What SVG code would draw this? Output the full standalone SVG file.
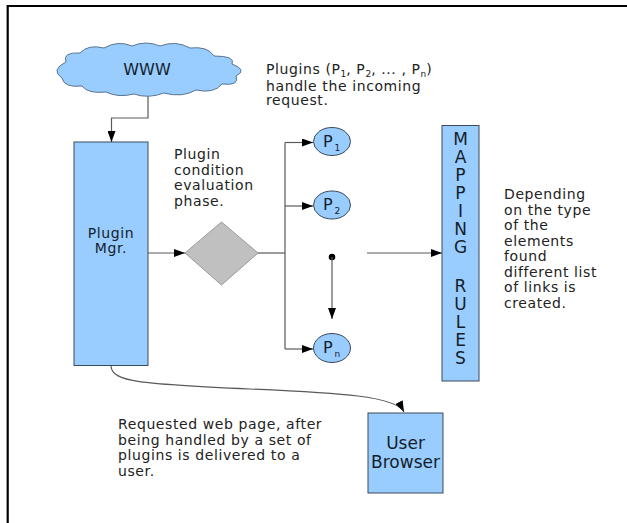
<svg xmlns="http://www.w3.org/2000/svg" width="627" height="523" viewBox="0 0 627 523">
<style>
text{font-family:"DejaVu Sans","Liberation Sans",sans-serif;fill:#222}
.note{font-size:14px;letter-spacing:0.6px}
.node{fill:#99ccff;stroke:#3a4a5a;stroke-width:1}
.lbl{fill:#141e2a}
.conn{fill:none;stroke:#5a5a5a;stroke-width:1.2}
.big{font-size:17px}
.sub{font-size:9px;letter-spacing:0}
</style>
<defs>
<marker id="arr" markerUnits="userSpaceOnUse" markerWidth="11" markerHeight="8" refX="11" refY="4" orient="auto">
<path d="M0,0 L11,4 L0,8 z" fill="#000"/>
</marker>
</defs>
<g id="frame">
<line x1="7.7" y1="6" x2="627" y2="6" stroke="#000" stroke-width="2.2"/>
<line x1="7.7" y1="5" x2="7.7" y2="523" stroke="#000" stroke-width="2.2"/>
</g>
<g id="connectors">
<polyline class="conn" points="148,95 148,118 111.5,118 111.5,142" marker-end="url(#arr)"/>
<line class="conn" x1="148" y1="253" x2="185" y2="253" marker-end="url(#arr)"/>
<polyline class="conn" points="258,253 285,253"/>
<line class="conn" x1="285" y1="142.5" x2="285" y2="349"/>
<line class="conn" x1="285" y1="142.5" x2="313" y2="142.5" marker-end="url(#arr)"/>
<line class="conn" x1="285" y1="206" x2="313" y2="206" marker-end="url(#arr)"/>
<line class="conn" x1="285" y1="349" x2="313" y2="349" marker-end="url(#arr)"/>
<circle cx="332" cy="257" r="3.3" fill="#000"/>
<line class="conn" x1="332" y1="257" x2="332" y2="319" marker-end="url(#arr)"/>
<line class="conn" x1="367" y1="253" x2="442" y2="253" marker-end="url(#arr)"/>
<path class="conn" d="M111,366 C112,382 140,384 250,389 C340,393 396,396 404,412" marker-end="url(#arr)"/>
</g>
<g id="www">
<path d="M62,78 Q50,70 66,62 Q62,52 80,53 Q88,44 104,48 Q118,40 132,46 Q146,40 160,46 Q176,40 190,48 Q208,46 214,56 Q236,56 232,64 Q248,70 236,76 Q240,86 222,84 Q214,94 196,90 Q182,98 164,93 Q148,99 134,94 Q118,98 106,92 Q88,94 82,86 Q64,88 62,78 Z" fill="#99ccff" stroke="#5a7590" stroke-width="1"/>
<text class="lbl" x="147" y="75" font-size="16" text-anchor="middle">WWW</text>
</g>
<g id="plugin-mgr">
<rect class="node" x="74" y="142" width="74" height="223.5"/>
<text class="lbl note" x="111" y="237.5" text-anchor="middle">Plugin</text>
<text class="lbl note" x="111" y="253" text-anchor="middle">Mgr.</text>
</g>
<g id="decision">
<polygon points="185,253 221.5,222 258,253 221.5,285" fill="#c0c0c0" stroke="#999" stroke-width="1"/>
</g>
<g id="p1">
<ellipse class="node" cx="332" cy="141.5" rx="18.5" ry="14"/>
<text class="lbl" x="323" y="146.5" font-size="16">P</text>
<text class="lbl sub" x="334.5" y="150.5">1</text>
</g>
<g id="p2">
<ellipse class="node" cx="332" cy="205" rx="18.5" ry="14"/>
<text class="lbl" x="323" y="210" font-size="16">P</text>
<text class="lbl sub" x="334.5" y="214">2</text>
</g>
<g id="pn">
<ellipse class="node" cx="332" cy="348" rx="18.5" ry="14.5"/>
<text class="lbl" x="323" y="353" font-size="16">P</text>
<text class="lbl sub" x="334.5" y="357">n</text>
</g>
<g id="mapping-rules">
<rect class="node" x="442" y="125.5" width="37" height="255.5"/>
<g class="lbl big" text-anchor="middle">
<text class="lbl" x="460.5" y="145">M</text>
<text class="lbl" x="460.5" y="163">A</text>
<text class="lbl" x="460.5" y="181">P</text>
<text class="lbl" x="460.5" y="199">P</text>
<text class="lbl" x="460.5" y="217">I</text>
<text class="lbl" x="460.5" y="235">N</text>
<text class="lbl" x="460.5" y="253">G</text>
<text class="lbl" x="460.5" y="292">R</text>
<text class="lbl" x="460.5" y="310">U</text>
<text class="lbl" x="460.5" y="328">L</text>
<text class="lbl" x="460.5" y="346">E</text>
<text class="lbl" x="460.5" y="364">S</text>
</g>
</g>
<g id="user-browser">
<rect class="node" x="368" y="413" width="75" height="80"/>
<text class="lbl big" x="405.5" y="449" text-anchor="middle">User</text>
<text class="lbl big" x="405.5" y="468" text-anchor="middle">Browser</text>
</g>
<g id="notes" class="note">
<text x="266" y="74">Plugins (P<tspan class="sub" dy="2.5">1</tspan><tspan dy="-2.5">, P</tspan><tspan class="sub" dy="2.5">2</tspan><tspan dy="-2.5">, ... , P</tspan><tspan class="sub" dy="2.5">n</tspan><tspan dy="-2.5">)</tspan></text>
<text x="266" y="91">handle the incoming</text>
<text x="266" y="105">request.</text>
<text x="174" y="159">Plugin</text>
<text x="174" y="174.5">condition</text>
<text x="174" y="190">evaluation</text>
<text x="174" y="205.5">phase.</text>
<text x="504" y="199">Depending</text>
<text x="504" y="214.5">on the type</text>
<text x="504" y="230">of the</text>
<text x="504" y="245.5">elements</text>
<text x="504" y="261">found</text>
<text x="504" y="276.5">different list</text>
<text x="504" y="292">of links is</text>
<text x="504" y="307.5">created.</text>
<text x="118" y="429">Requested web page, after</text>
<text x="118" y="444.5">being handled by a set of</text>
<text x="118" y="460">plugins is delivered to a</text>
<text x="118" y="475.5">user.</text>
</g>
</svg>
